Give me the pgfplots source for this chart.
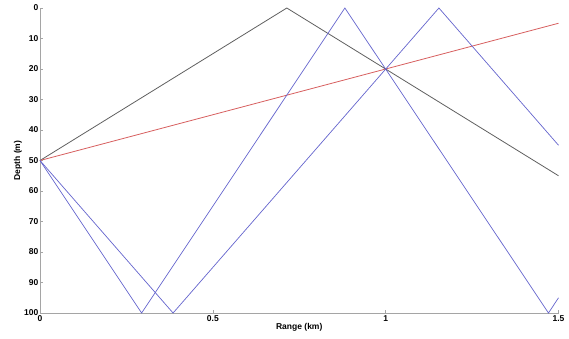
\documentclass[border=0pt]{standalone}
\usepackage{pgfplots}
\pgfplotsset{compat=1.18}
\usepackage{fontspec}
\setmainfont{Liberation Sans}
\definecolor{raygray}{RGB}{95,95,95}
\definecolor{rayred}{RGB}{215,95,95}
\definecolor{rayblue}{RGB}{100,100,205}
\definecolor{spine}{RGB}{165,165,165}
\begin{document}
\begin{tikzpicture}
\begin{axis}[
  scale only axis,
  width=518.5pt, height=305pt,
  xmin=0, xmax=1.5, ymin=0, ymax=100,
  y dir=reverse,
  axis lines=left,
  axis line style={spine, -, line width=0.8pt},
  every tick/.style={spine, line width=0.6pt},
  tick align=inside,
  major tick length=3.5pt,
  xtick={0,0.5,1,1.5},
  xticklabels={0,0.5,1,1.5},
  ytick={0,10,...,100},
  tick label style={font=\fontsize{8.5}{9}\selectfont\bfseries},
  /pgf/number format/assume math mode=true,
  xticklabel style={inner sep=1pt, yshift=-1.5pt},
  yticklabel style={inner sep=1pt, xshift=-0.5pt},
  xlabel={Range (km)}, ylabel={Depth (m)},
  every axis x label/.style={at={(axis description cs:0.5,-0.046)}, anchor=center, font=\fontsize{8.5}{9}\selectfont\bfseries},
  every axis y label/.style={at={(axis description cs:-0.0425,0.5)}, anchor=center, rotate=90, font=\fontsize{8.5}{9}\selectfont\bfseries},
  clip=false,
]
\addplot[raygray, line width=0.8pt] coordinates {(0,50) (0.714,0) (1.5,55)};
\addplot[rayred, line width=0.8pt] coordinates {(0,50) (1.5,5)};
\addplot[rayblue, line width=0.7pt] coordinates {(0,50) (0.294,100) (0.882,0) (1.471,100) (1.5,95)};
\addplot[rayblue, line width=0.7pt] coordinates {(0,50) (0.385,100) (1.154,0) (1.5,45)};
\path (rel axis cs:0,0) ++(-40pt,-25pt);
\path (rel axis cs:1,1) ++(10.5pt,8pt);
\end{axis}
\end{tikzpicture}
\end{document}
